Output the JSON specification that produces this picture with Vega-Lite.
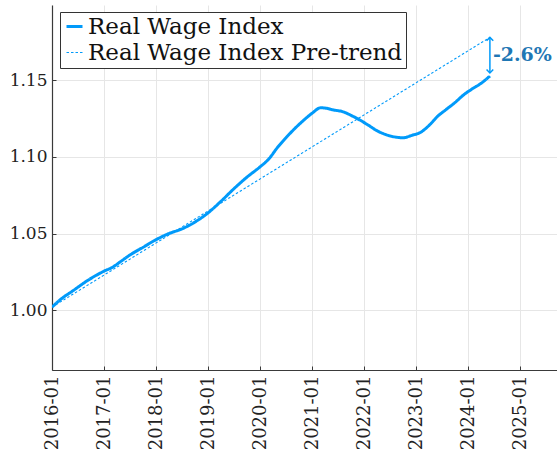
{
  "$schema": "https://vega.github.io/schema/vega-lite/v6.json",
  "width": 505,
  "height": 365,
  "autosize": {"type": "none"},
  "padding": {"left": 52, "top": 5, "right": 0, "bottom": 88},
  "background": "white",
  "config": {
    "view": {"stroke": null},
    "font": "DejaVu Serif",
    "axis": {
      "domainColor": "#3a3a3a",
      "domainWidth": 1.2,
      "gridColor": "#e6e6e6",
      "gridWidth": 1,
      "tickColor": "#3a3a3a",
      "tickSize": -4,
      "labelFont": "DejaVu Serif",
      "labelColor": "#222222",
      "title": null
    },
    "legend": {
      "symbolType": "stroke",
      "labelFont": "DejaVu Serif"
    }
  },
  "datasets": {
    "series": [
      {"date": "2016-01-01", "value": 1.002, "series": "Real Wage Index"},
      {"date": "2016-03-01", "value": 1.007, "series": "Real Wage Index"},
      {"date": "2016-06-01", "value": 1.013, "series": "Real Wage Index"},
      {"date": "2016-09-01", "value": 1.019, "series": "Real Wage Index"},
      {"date": "2016-12-01", "value": 1.024, "series": "Real Wage Index"},
      {"date": "2017-01-01", "value": 1.0255, "series": "Real Wage Index"},
      {"date": "2017-03-01", "value": 1.028, "series": "Real Wage Index"},
      {"date": "2017-05-01", "value": 1.032, "series": "Real Wage Index"},
      {"date": "2017-07-01", "value": 1.036, "series": "Real Wage Index"},
      {"date": "2017-10-01", "value": 1.041, "series": "Real Wage Index"},
      {"date": "2018-01-01", "value": 1.046, "series": "Real Wage Index"},
      {"date": "2018-04-01", "value": 1.05, "series": "Real Wage Index"},
      {"date": "2018-07-01", "value": 1.053, "series": "Real Wage Index"},
      {"date": "2018-10-01", "value": 1.0575, "series": "Real Wage Index"},
      {"date": "2019-01-01", "value": 1.0635, "series": "Real Wage Index"},
      {"date": "2019-04-01", "value": 1.071, "series": "Real Wage Index"},
      {"date": "2019-07-01", "value": 1.0792, "series": "Real Wage Index"},
      {"date": "2019-10-01", "value": 1.0868, "series": "Real Wage Index"},
      {"date": "2020-01-01", "value": 1.0935, "series": "Real Wage Index"},
      {"date": "2020-03-01", "value": 1.0985, "series": "Real Wage Index"},
      {"date": "2020-05-01", "value": 1.106, "series": "Real Wage Index"},
      {"date": "2020-07-01", "value": 1.1125, "series": "Real Wage Index"},
      {"date": "2020-09-01", "value": 1.1185, "series": "Real Wage Index"},
      {"date": "2020-11-01", "value": 1.1238, "series": "Real Wage Index"},
      {"date": "2021-01-01", "value": 1.1285, "series": "Real Wage Index"},
      {"date": "2021-03-01", "value": 1.132, "series": "Real Wage Index"},
      {"date": "2021-04-01", "value": 1.1318, "series": "Real Wage Index"},
      {"date": "2021-06-01", "value": 1.1305, "series": "Real Wage Index"},
      {"date": "2021-08-01", "value": 1.1295, "series": "Real Wage Index"},
      {"date": "2021-10-01", "value": 1.127, "series": "Real Wage Index"},
      {"date": "2021-12-01", "value": 1.124, "series": "Real Wage Index"},
      {"date": "2022-02-01", "value": 1.1205, "series": "Real Wage Index"},
      {"date": "2022-04-01", "value": 1.117, "series": "Real Wage Index"},
      {"date": "2022-06-01", "value": 1.1145, "series": "Real Wage Index"},
      {"date": "2022-08-01", "value": 1.113, "series": "Real Wage Index"},
      {"date": "2022-10-01", "value": 1.1124, "series": "Real Wage Index"},
      {"date": "2022-12-01", "value": 1.114, "series": "Real Wage Index"},
      {"date": "2023-02-01", "value": 1.116, "series": "Real Wage Index"},
      {"date": "2023-04-01", "value": 1.1205, "series": "Real Wage Index"},
      {"date": "2023-06-01", "value": 1.1265, "series": "Real Wage Index"},
      {"date": "2023-08-01", "value": 1.131, "series": "Real Wage Index"},
      {"date": "2023-10-01", "value": 1.1355, "series": "Real Wage Index"},
      {"date": "2023-12-01", "value": 1.1405, "series": "Real Wage Index"},
      {"date": "2024-02-01", "value": 1.1445, "series": "Real Wage Index"},
      {"date": "2024-04-01", "value": 1.148, "series": "Real Wage Index"},
      {"date": "2024-06-01", "value": 1.1527, "series": "Real Wage Index"},
      {"date": "2016-01-01", "value": 1.002, "series": "Real Wage Index Pre-trend"},
      {"date": "2024-06-01", "value": 1.1779, "series": "Real Wage Index Pre-trend"}
    ],
    "gap": [
      {"date": "2024-06-01", "lo": 1.1547, "hi": 1.1779, "label": "-2.6%", "mid": 1.1665}
    ]
  },
  "layer": [
    {
      "data": {"name": "series"},
      "mark": {"type": "line", "clip": true, "interpolate": "monotone"},
      "encoding": {
        "x": {
          "field": "date",
          "type": "temporal",
          "scale": {
            "type": "utc",
            "domain": [
              {"year": 2016, "month": 1, "date": 1, "utc": true},
              {"year": 2025, "month": 9, "date": 15, "utc": true}
            ],
            "nice": false
          },
          "axis": {
            "values": [
              {"year": 2016, "month": 1, "date": 1, "utc": true},
              {"year": 2017, "month": 1, "date": 1, "utc": true},
              {"year": 2018, "month": 1, "date": 1, "utc": true},
              {"year": 2019, "month": 1, "date": 1, "utc": true},
              {"year": 2020, "month": 1, "date": 1, "utc": true},
              {"year": 2021, "month": 1, "date": 1, "utc": true},
              {"year": 2022, "month": 1, "date": 1, "utc": true},
              {"year": 2023, "month": 1, "date": 1, "utc": true},
              {"year": 2024, "month": 1, "date": 1, "utc": true},
              {"year": 2025, "month": 1, "date": 1, "utc": true}
            ],
            "format": "%Y-%m",
            "labelAngle": 270,
            "labelAlign": "right",
            "labelBaseline": "middle",
            "labelFontSize": 18,
            "labelPadding": 9,
            "labelOverlap": false,
            "labelFlush": false
          }
        },
        "y": {
          "field": "value",
          "type": "quantitative",
          "scale": {"domain": [0.961, 1.199], "nice": false, "zero": false},
          "axis": {
            "values": [1.0, 1.05, 1.1, 1.15],
            "format": ".2f",
            "labelFontSize": 17,
            "labelPadding": 9,
            "labelFlush": false
          }
        },
        "color": {
          "field": "series",
          "type": "nominal",
          "scale": {
            "domain": ["Real Wage Index", "Real Wage Index Pre-trend"],
            "range": ["#009AFA", "#009AFA"]
          },
          "legend": {
            "title": null,
            "orient": "none",
            "legendX": 8,
            "legendY": 7,
            "strokeColor": "#333333",
            "fillColor": "white",
            "padding": 3,
            "labelFontSize": 23,
            "labelColor": "#111111",
            "labelOffset": 2,
            "symbolSize": 256,
            "rowPadding": 2,
            "labelLimit": 400
          }
        },
        "strokeDash": {
          "field": "series",
          "type": "nominal",
          "scale": {
            "domain": ["Real Wage Index", "Real Wage Index Pre-trend"],
            "range": [[1, 0], [2.5, 2]]
          },
          "legend": {
            "title": null,
            "orient": "none",
            "legendX": 8,
            "legendY": 7,
            "strokeColor": "#333333",
            "fillColor": "white",
            "padding": 3,
            "labelFontSize": 23,
            "labelColor": "#111111",
            "labelOffset": 2,
            "symbolSize": 256,
            "rowPadding": 2,
            "labelLimit": 400
          }
        },
        "strokeWidth": {
          "field": "series",
          "type": "nominal",
          "scale": {
            "domain": ["Real Wage Index", "Real Wage Index Pre-trend"],
            "range": [3, 1.1]
          },
          "legend": {
            "title": null,
            "orient": "none",
            "legendX": 8,
            "legendY": 7,
            "strokeColor": "#333333",
            "fillColor": "white",
            "padding": 3,
            "labelFontSize": 23,
            "labelColor": "#111111",
            "labelOffset": 2,
            "symbolSize": 256,
            "rowPadding": 2,
            "labelLimit": 400
          }
        },
        "order": {"field": "date", "type": "temporal"}
      }
    },
    {
      "data": {"name": "gap"},
      "mark": {"type": "rule", "color": "#009AFA", "strokeWidth": 1.5},
      "encoding": {
        "x": {"field": "date", "type": "temporal"},
        "y": {"field": "lo", "type": "quantitative"},
        "y2": {"field": "hi"}
      }
    },
    {
      "data": {"name": "gap"},
      "mark": {"type": "point", "shape": "M-1,1L0,0L1,1", "filled": false, "color": "#009AFA", "strokeWidth": 1.5, "size": 45, "opacity": 1},
      "encoding": {
        "x": {"field": "date", "type": "temporal"},
        "y": {"field": "hi", "type": "quantitative"}
      }
    },
    {
      "data": {"name": "gap"},
      "mark": {"type": "point", "shape": "M-1,-1L0,0L1,-1", "filled": false, "color": "#009AFA", "strokeWidth": 1.5, "size": 45, "opacity": 1},
      "encoding": {
        "x": {"field": "date", "type": "temporal"},
        "y": {"field": "lo", "type": "quantitative"}
      }
    },
    {
      "data": {"name": "gap"},
      "mark": {"type": "text", "align": "left", "baseline": "middle", "dx": 3, "font": "DejaVu Serif", "fontWeight": "bold", "fontSize": 19, "color": "#1f77b4"},
      "encoding": {
        "x": {"field": "date", "type": "temporal"},
        "y": {"field": "mid", "type": "quantitative"},
        "text": {"field": "label"}
      }
    }
  ]
}
